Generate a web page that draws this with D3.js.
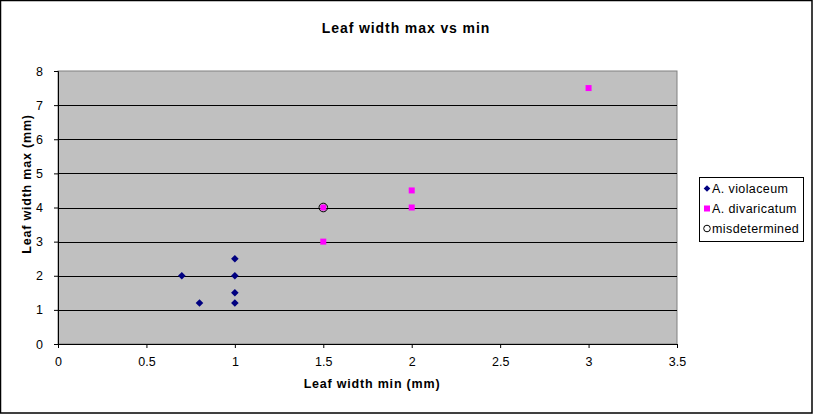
<!DOCTYPE html>
<html>
<head>
<meta charset="utf-8">
<script src="https://cdn.jsdelivr.net/npm/d3@7"></script>
<style>
  body { margin: 0; background: #fff; }
  text { font-family: Arial, "Liberation Sans", sans-serif; }
</style>
</head>
<body>
<div id="chart"></div>
<script>
// data
var violaceumX = [0.7, 0.8, 1, 1, 1, 1];
var violaceumY = [2, 1.2, 1.2, 1.5, 2, 2.5];
var divaricatumX = [1.5, 1.5, 2, 2, 3];
var divaricatumY = [3, 4, 4, 4.5, 7.5];
var misX = [1.5];
var misY = [4];
var xTicks = [0, 0.5, 1, 1.5, 2, 2.5, 3, 3.5];
var yTicks = [0, 1, 2, 3, 4, 5, 6, 7, 8];
var legendLabels = ["A. violaceum", "A. divaricatum", "misdetermined"];

var svgWidth = 813;
var svgHeight = 414;

var plot = { left: 58, top: 71, right: 677, bottom: 344 };

var svg = d3.select("#chart")
    .append("svg")
    .attr("width", svgWidth)
    .attr("height", svgHeight);

// outer frame
svg.append("rect")
    .attr("x", 0.5)
    .attr("y", 0.5)
    .attr("width", svgWidth - 1.5)
    .attr("height", svgHeight - 1.5)
    .attr("fill", "white")
    .attr("stroke", "black")
    .attr("stroke-width", 1.5);

var x = d3.scaleLinear().domain([0, 3.5]).range([plot.left, plot.right]);
var y = d3.scaleLinear().domain([0, 8]).range([plot.bottom, plot.top]);

// plot background
svg.append("rect")
    .attr("x", plot.left)
    .attr("y", plot.top)
    .attr("width", plot.right - plot.left)
    .attr("height", plot.bottom - plot.top)
    .attr("fill", "#c0c0c0")
    .attr("stroke", "#808080")
    .attr("stroke-width", 1);

// gridlines
svg.append("g")
    .selectAll("line")
    .data(yTicks.slice(1, -1))
    .enter()
    .append("line")
    .attr("x1", plot.left)
    .attr("x2", plot.right)
    .attr("y1", d => Math.round(y(d)) + 0.5)
    .attr("y2", d => Math.round(y(d)) + 0.5)
    .attr("stroke", "black")
    .attr("stroke-width", 1);

// axes
var bottomAxis = d3.axisBottom(x)
    .tickValues(xTicks)
    .tickSize(4)
    .tickPadding(9)
    .tickFormat(d3.format("~g"));

var leftAxis = d3.axisLeft(y)
    .tickValues(yTicks)
    .tickSize(4)
    .tickPadding(11)
    .tickFormat(d3.format("d"));

var xAxis = svg.append("g")
    .attr("transform", `translate(0, ${plot.bottom})`)
    .call(bottomAxis);

var yAxis = svg.append("g")
    .attr("transform", `translate(${plot.left}, 0)`)
    .call(leftAxis);

[xAxis, yAxis].forEach(function(a) {
    a.select(".domain").attr("stroke", "black");
    a.selectAll(".tick line").attr("stroke", "black");
    a.selectAll("text")
        .attr("font-size", "12.5px")
        .attr("fill", "black")
        .style("font-family", "Arial, 'Liberation Sans', sans-serif");
});

// titles
svg.append("text")
    .attr("x", 406)
    .attr("y", 33)
    .attr("text-anchor", "middle")
    .attr("font-size", "14px")
    .attr("font-weight", "bold")
    .attr("letter-spacing", "0.9px")
    .text("Leaf width max vs min");

svg.append("text")
    .attr("x", 372)
    .attr("y", 388)
    .attr("text-anchor", "middle")
    .attr("font-size", "12.5px")
    .attr("font-weight", "bold")
    .attr("letter-spacing", "0.8px")
    .text("Leaf width min (mm)");

svg.append("text")
    .attr("transform", "translate(31, 184) rotate(-90)")
    .attr("text-anchor", "middle")
    .attr("font-size", "12.5px")
    .attr("font-weight", "bold")
    .attr("letter-spacing", "0.8px")
    .text("Leaf width max (mm)");

// markers
function diamondPath(r) {
    return `M0,${-r}L${r},0L0,${r}L${-r},0Z`;
}

svg.append("g")
    .selectAll("path")
    .data(violaceumX.map((d, i) => [d, violaceumY[i]]))
    .enter()
    .append("path")
    .attr("d", diamondPath(3.8))
    .attr("transform", d => `translate(${x(d[0])}, ${y(d[1])})`)
    .attr("fill", "#000080");

svg.append("g")
    .selectAll("rect")
    .data(divaricatumX.map((d, i) => [d, divaricatumY[i]]))
    .enter()
    .append("rect")
    .attr("x", d => x(d[0]) - 3)
    .attr("y", d => y(d[1]) - 3)
    .attr("width", 6)
    .attr("height", 6)
    .attr("fill", "#ff00ff");

svg.append("g")
    .selectAll("circle")
    .data(misX.map((d, i) => [d, misY[i]]))
    .enter()
    .append("circle")
    .attr("cx", d => x(d[0]))
    .attr("cy", d => y(d[1]))
    .attr("r", 4.3)
    .attr("fill", "none")
    .attr("stroke", "black")
    .attr("stroke-width", 1);

// legend
var legend = svg.append("g");

legend.append("rect")
    .attr("x", 699.5)
    .attr("y", 177.5)
    .attr("width", 104)
    .attr("height", 64)
    .attr("fill", "white")
    .attr("stroke", "black")
    .attr("stroke-width", 1);

var rows = legend.selectAll("g.row")
    .data(legendLabels)
    .enter()
    .append("g")
    .attr("class", "row")
    .attr("transform", (d, i) => `translate(0, ${188.5 + i * 20})`);

rows.append("text")
    .attr("x", 712)
    .attr("y", 4.5)
    .attr("font-size", "12.5px")
    .attr("letter-spacing", "0.4px")
    .text(d => d);

rows.filter((d, i) => i === 0)
    .append("path")
    .attr("d", diamondPath(3.3))
    .attr("transform", "translate(707, 0)")
    .attr("fill", "#000080");

rows.filter((d, i) => i === 1)
    .append("rect")
    .attr("x", 704)
    .attr("y", -3)
    .attr("width", 6)
    .attr("height", 6)
    .attr("fill", "#ff00ff");

rows.filter((d, i) => i === 2)
    .append("circle")
    .attr("cx", 707)
    .attr("cy", 0)
    .attr("r", 3.3)
    .attr("fill", "none")
    .attr("stroke", "black");
</script>
</body>
</html>
